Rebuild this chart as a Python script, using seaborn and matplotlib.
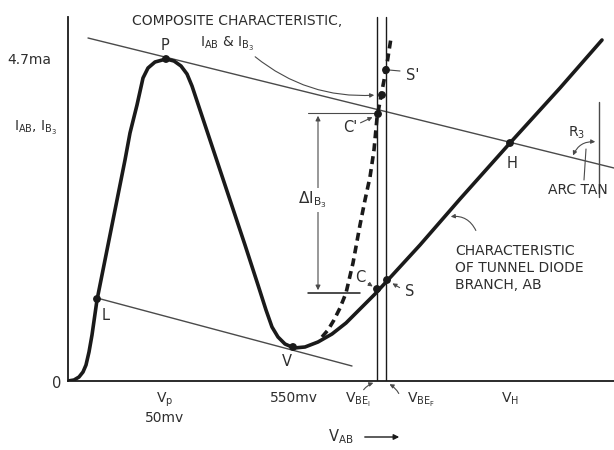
import matplotlib
matplotlib.use("Agg")
import matplotlib.pyplot as plt
import seaborn as sns

# tunnel diode branch AB (solid curve)
diode_v = [0, 6, 11, 15, 18, 21, 24, 29, 37, 47, 57, 62, 69, 75, 80, 87, 98,
           106, 113, 119, 124, 132, 147, 162, 177, 190, 198, 204, 210, 217,
           226, 237, 250, 264, 278, 292, 307, 319, 352, 392, 442, 492, 534]
diode_i = [0, 1, 4, 9, 16, 29, 46, 81, 121, 171, 221, 248, 276, 303, 313, 319,
           322, 320, 315, 307, 295, 271, 226, 181, 136, 96, 71, 54, 44, 37,
           33, 34, 39, 47, 58, 72, 87, 100, 136, 182, 238, 293, 341]

# composite characteristic I_AB & I_B3 (dashed curve)
comp_v = [254, 260, 266, 272, 278, 285, 292, 297, 302, 306, 309, 313, 318, 323]
comp_i = [44, 51, 61, 73, 88, 118, 156, 181, 204, 231, 263, 285, 311, 343]

# marked points on the curves
point_names = ["L", "P", "V", "C", "S", "C'", "S'", "H", ""]
point_v = [29, 98, 225, 309, 319, 310, 318, 442, 314]
point_i = [82, 322, 34, 92, 101, 267, 311, 238, 286]

# load lines of R3 (end points)
upper_load_v = [20, 546]
upper_load_i = [343, 213]
lower_load_v = [29, 284]
lower_load_i = [83, 15]

# base-emitter voltages
vbe_initial = 309
vbe_final = 318

# axis ticks
x_ticks = [97, 226, 442]
x_tick_labels = ["$\\mathregular{V_p}$\n50mv", "550mv", "$\\mathregular{V_H}$"]
y_ticks = [323]
y_tick_labels = ["4.7ma"]

# delta I_B3 span
delta_lo = 88
delta_hi = 268

ink = "#1a1a1a"
thin = "#4a4a4a"
txt = "#2e2e2e"

sns.set_theme(style="white")
plt.rcParams["font.family"] = ["DejaVu Sans"]
plt.rcParams["mathtext.default"] = "regular"

fig = plt.figure(figsize=(6.14, 4.5), dpi=100)
ax = fig.add_axes([68 / 614, 69 / 450, 546 / 614, 381 / 450])
ax.set_xlim(0, 546)
ax.set_ylim(0, 381)

# axes
sns.despine(ax=ax)
for side in ["left", "bottom"]:
    ax.spines[side].set_color(ink)
    ax.spines[side].set_linewidth(1.3)
ax.spines["left"].set_bounds(0, 364)
ax.set_xticks(x_ticks, x_tick_labels)
ax.set_yticks(y_ticks, y_tick_labels)
ax.tick_params(axis="x", direction="in", length=5, width=0.8, colors=txt,
               labelsize=10, pad=7)
ax.tick_params(axis="y", direction="in", length=9, width=1, colors=txt,
               labelsize=10, pad=12)

# load lines
sns.lineplot(x=upper_load_v, y=upper_load_i, ax=ax, color=thin, lw=1.0)
sns.lineplot(x=lower_load_v, y=lower_load_i, ax=ax, color=thin, lw=1.0)

# V_BE lines (no aggregation, x repeats)
for v in [vbe_initial, vbe_final]:
    sns.lineplot(x=[v, v], y=[0, 364], ax=ax, color=ink, lw=1.0,
                 sort=False, estimator=None)

# curves
sns.lineplot(x=diode_v, y=diode_i, ax=ax, sort=False, estimator=None,
             color=ink, lw=2.6)
sns.lineplot(x=comp_v, y=comp_i, ax=ax, sort=False, estimator=None,
             color=ink, lw=2.6, linestyle=(0, (2.2, 1.4)))
sns.scatterplot(x=point_v, y=point_i, ax=ax, color=ink, s=32,
                edgecolor="none", zorder=5)

# delta I_B3 marker
sns.lineplot(x=[240, 308], y=[delta_hi, delta_hi], ax=ax, color=thin, lw=0.8)
sns.lineplot(x=[240, 292], y=[delta_lo, delta_lo], ax=ax, color=ink, lw=1.1)
ax.annotate("", xy=(250, delta_hi), xytext=(250, delta_lo),
            arrowprops=dict(arrowstyle="<|-|>", color=thin, lw=0.8,
                            mutation_scale=7))
ax.text(244, 181, "ΔI$_{B_3}$", fontsize=11, color=txt, ha="center",
        va="center", bbox=dict(fc="white", ec="none", pad=1.5))

# right hand reference line for R3 angle
sns.lineplot(x=[531, 531], y=[279, 184], ax=ax, color=thin, lw=1.0,
             sort=False, estimator=None)
ax.annotate("", xy=(530, 239), xytext=(504, 223),
            arrowprops=dict(arrowstyle="<|-|>", color=thin, lw=0.8,
                            mutation_scale=6,
                            connectionstyle="arc3,rad=-0.4"))
sns.lineplot(x=[518, 516], y=[232, 201], ax=ax, color=thin, lw=0.8)
ax.text(509, 248, "R$_3$", fontsize=10, color=txt, ha="center", va="center")
ax.text(510, 191, "ARC TAN", fontsize=10, color=txt, ha="center",
        va="center")

# point letters
labels = {"L": (38, 65), "P": (97, 336), "V": (219, 19), "H": (444, 218),
          "C'": (282, 253), "C": (292, 103), "S": (342, 89),
          "S'": (345, 306)}
for name, (lx, ly) in labels.items():
    ax.text(lx, ly, name, fontsize=10.5, color=txt, ha="center", va="center")
arrow = dict(arrowstyle="-|>", color=thin, lw=0.8, mutation_scale=6)
ax.annotate("", xy=(307, 265), xytext=(290, 257), arrowprops=arrow)
ax.annotate("", xy=(307, 93), xytext=(298, 99), arrowprops=arrow)
ax.annotate("", xy=(322, 99), xytext=(334, 92), arrowprops=arrow)
sns.lineplot(x=[321, 332], y=[311, 310], ax=ax, color=thin, lw=0.8)

# captions
ax.text(64, 360, "COMPOSITE CHARACTERISTIC,", fontsize=10, color=txt,
        ha="left", va="center")
ax.text(132, 337, "I$_{AB}$ & I$_{B_3}$", fontsize=10, color=txt,
        ha="left", va="center")
ax.annotate("", xy=(309, 286), xytext=(185, 326),
            arrowprops=dict(arrowstyle="-|>", color=thin, lw=0.8,
                            mutation_scale=6,
                            connectionstyle="arc3,rad=0.2"))
ax.text(387, 113, "CHARACTERISTIC\nOF TUNNEL DIODE\nBRANCH, AB",
        fontsize=10, color=txt, ha="left", va="center", linespacing=1.25)
ax.annotate("", xy=(380, 164), xytext=(409, 148),
            arrowprops=dict(arrowstyle="-|>", color=thin, lw=0.8,
                            mutation_scale=6,
                            connectionstyle="arc3,rad=0.4"))

# axis captions
ax.text(-32, 253, "I$_{AB}$, I$_{B_3}$", fontsize=10, color=txt,
        ha="center", va="center")
ax.text(-11, -3, "0", fontsize=10.5, color=txt, ha="center", va="center")
ax.text(290, -19, "V$_{BE_I}$", fontsize=10, color=txt, ha="center",
        va="center")
ax.text(353, -19, "V$_{BE_F}$", fontsize=10, color=txt, ha="center",
        va="center")
ax.annotate("", xy=(308, -1), xytext=(294, -11), annotation_clip=False,
            arrowprops=dict(arrowstyle="-|>", color=thin, lw=0.8,
                            mutation_scale=6,
                            connectionstyle="arc3,rad=-0.2"))
ax.annotate("", xy=(319, -2), xytext=(332, -15), annotation_clip=False,
            arrowprops=dict(arrowstyle="-|>", color=thin, lw=0.8,
                            mutation_scale=6,
                            connectionstyle="arc3,rad=0.2"))
ax.text(273, -56, "V$_{AB}$", fontsize=10.5, color=txt, ha="center",
        va="center")
ax.annotate("", xy=(334, -56), xytext=(294, -56), annotation_clip=False,
            arrowprops=dict(arrowstyle="-|>", color=ink, lw=1.0,
                            mutation_scale=8))

fig.savefig("out.png", dpi=100)
plt.close(fig)
